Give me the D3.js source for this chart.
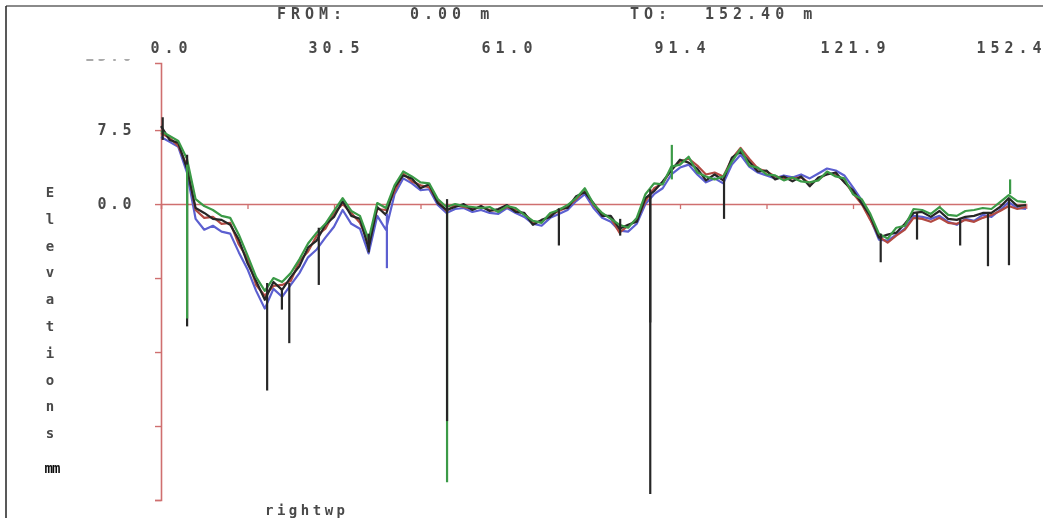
<!DOCTYPE html>
<html>
<head>
<meta charset="utf-8">
<script src="https://cdn.jsdelivr.net/npm/d3@7"></script>
<style>
  html, body { margin: 0; padding: 0; background: #fff; }
  svg { display: block; }
  .mono { font-family: "DejaVu Sans Mono", "Liberation Mono", monospace; font-weight: bold; }
</style>
</head>
<body>
<svg id="chart" width="1043" height="518"></svg>
<script>
// Profile station spacing (m) and range
const startDist = 0.0;
const endDist = 152.4;
const step = 1.524;

// Elevation traces (mm), one value per station
const traceBlack = [7.9, 6.5, 6.2, 3.6, -0.4, -0.9, -1.5, -1.6, -2.1, -3.6, -6.0, -7.8, -9.7, -7.9, -8.7, -7.4, -6.3, -4.4, -3.7, -2.1,
  -1.3, 0.3, -1.2, -1.5, -4.5, -0.3, -1.1, 1.7, 2.9, 2.6, 1.6, 2.0, 0.1, -0.6, -0.3, 0.0, -0.6, -0.2, -0.7, -0.5,
  -0.1, -0.8, -0.9, -2.1, -1.6, -1.3, -0.5, -0.4, 0.8, 1.2, 0.1, -1.2, -1.2, -2.5, -2.1, -1.8, 0.6, 1.3, 2.3, 3.4,
  4.5, 4.2, 3.6, 2.4, 3.0, 2.4, 4.7, 5.3, 4.3, 3.3, 3.4, 2.5, 2.8, 2.3, 2.8, 1.8, 2.7, 3.0, 3.2, 2.2,
  1.4, 0.1, -1.2, -3.4, -3.1, -2.9, -2.0, -0.9, -0.8, -1.3, -0.7, -1.5, -1.6, -1.3, -1.2, -0.9, -0.9, -0.3, 0.6, -0.2, -0.1];
const traceGreen = [7.4, 6.9, 6.4, 4.6, 0.5, -0.2, -0.6, -1.2, -1.4, -3.1, -5.2, -7.4, -8.8, -7.5, -7.9, -7.0, -5.6, -4.0, -2.9, -2.0,
  -0.7, 0.6, -0.7, -1.2, -3.6, 0.1, -0.4, 1.9, 3.3, 2.8, 2.2, 2.1, 0.5, -0.3, 0.0, -0.2, -0.3, -0.4, -0.3, -0.8,
  -0.2, -0.4, -1.1, -1.7, -1.9, -0.9, -0.6, -0.1, 0.6, 1.6, 0.0, -0.9, -1.5, -2.1, -2.4, -1.4, 1.0, 2.1, 2.0, 3.8,
  4.0, 4.8, 3.2, 2.8, 2.5, 2.8, 4.3, 5.6, 3.9, 3.7, 3.0, 2.9, 2.4, 2.7, 2.3, 2.2, 2.4, 3.3, 2.8, 2.6,
  1.0, 0.5, -1.0, -3.0, -3.5, -2.4, -2.2, -0.5, -0.6, -1.0, -0.3, -1.1, -1.2, -0.7, -0.6, -0.4, -0.5, 0.2, 0.9, 0.3, 0.2];
const traceBlue = [6.8, 6.3, 5.8, 3.2, -1.5, -2.6, -2.2, -2.8, -3.0, -4.9, -6.6, -8.8, -10.6, -8.6, -9.4, -8.2, -7.0, -5.4, -4.6, -3.4,
  -2.3, -0.6, -2.0, -2.5, -5.0, -1.2, -2.6, 1.0, 2.6, 2.1, 1.4, 1.5, -0.1, -0.9, -0.5, -0.4, -0.8, -0.6, -0.9, -1.0,
  -0.4, -0.9, -1.3, -2.0, -2.2, -1.4, -1.0, -0.6, 0.3, 1.0, -0.4, -1.4, -1.8, -2.7, -2.8, -2.0, 0.0, 1.0, 1.6, 3.0,
  3.7, 4.0, 3.0, 2.2, 2.6, 2.1, 4.0, 5.0, 3.8, 3.2, 2.9, 2.6, 2.9, 2.7, 3.0, 2.6, 3.1, 3.6, 3.4, 2.9,
  1.7, 0.4, -1.5, -3.6, -3.7, -3.1, -2.5, -1.2, -1.3, -1.5, -1.2, -1.8, -2.1, -1.5, -1.7, -1.1, -1.3, -0.6, 0.2, -0.4, -0.5];
const traceRed = [7.2, 6.7, 5.9, 3.9, -0.6, -1.4, -1.3, -2.0, -1.9, -4.1, -5.5, -8.2, -9.3, -8.3, -8.2, -7.8, -5.8, -4.8, -3.2, -2.5,
  -0.9, 0.0, -0.9, -1.9, -3.9, -0.5, -0.6, 1.3, 3.1, 2.3, 1.9, 1.7, 0.3, -0.7, -0.1, -0.3, -0.5, -0.3, -0.6, -0.7,
  -0.3, -0.6, -1.0, -1.8, -1.8, -1.1, -0.7, -0.3, 0.5, 1.4, -0.1, -1.0, -1.4, -2.9, -2.2, -1.6, 0.3, 1.6, 2.1, 3.5,
  4.3, 4.6, 3.9, 3.0, 3.2, 2.8, 4.6, 5.7, 4.6, 3.6, 3.3, 2.8, 2.6, 2.6, 2.7, 2.1, 2.5, 3.1, 3.0, 2.3,
  1.1, 0.0, -1.6, -3.3, -3.9, -3.2, -2.6, -1.4, -1.5, -1.8, -1.4, -1.9, -2.0, -1.6, -1.8, -1.4, -1.1, -0.7, -0.2, -0.5, -0.3];

// Narrow dropouts / jumps in the traces: station (m), start and end elevation (mm), trace
const spikeDist   = [0.3, 4.6, 4.6, 18.7, 21.3, 22.6, 27.8, 36.6, 39.8, 50.4, 50.4, 70.1, 80.9, 86.2, 86.2, 90.0, 99.2, 126.8, 133.2, 140.8, 145.7, 149.4, 149.6];
const spikeTop    = [6.5, 5.0, 4.0, -8.0, -8.5, -8.0, -2.4, -3.0, -1.0, 0.0, 0.5, -0.5, -1.5, 1.5, 1.0, 2.5, 2.5, -3.0, -0.8, -1.5, -0.8, 0.5, 1.0];
const spikeBottom = [8.8, -12.4, -11.6, -18.9, -10.7, -14.1, -8.2, -4.9, -6.5, -28.2, -22.0, -4.2, -3.2, -29.4, -12.0, 6.0, -1.5, -5.9, -3.6, -4.2, -6.3, -6.2, 2.5];
const spikeTrace  = ["k", "k", "g", "k", "k", "k", "k", "k", "b", "g", "k", "k", "k", "k", "k", "g", "k", "k", "k", "k", "k", "k", "g"];

// Axis ticks and labels
const distTicks = [0, 15.24, 30.48, 45.72, 60.96, 76.2, 91.44, 106.68, 121.92, 137.16, 152.4];
const distLabels = ["0.0", "", "30.5", "", "61.0", "", "91.4", "", "121.9", "", "152.4"];
const elevTicks = [-30, -22.5, -15, -7.5, 0, 7.5, 15];
const elevLabels = ["", "", "", "", "0.0", "7.5", "15.0"];

const header = { fromLabel: "FROM:", fromValue: "0.00 m", toLabel: "TO:", toValue: "152.40 m" };
const yTitle = "Elevations";
const yUnit = "mm";
const profileName = "rightwp";

const colors = { k: "#262626", g: "#3a9a46", b: "#5b5fd0", r: "#b24a42" };
const axisRed = "#cf6f6f";
const textFill = "#4a4a4a";

const svg = d3.select("#chart");

// Page frame
svg.append("line").attr("x1", 6).attr("x2", 1043).attr("y1", 6).attr("y2", 6)
  .attr("stroke", "#8a8a8a").attr("stroke-width", 2);
svg.append("line").attr("x1", 6).attr("x2", 6).attr("y1", 6).attr("y2", 518)
  .attr("stroke", "#222").attr("stroke-width", 1.5);

const defs = svg.append("defs");
defs.append("filter").attr("id", "soft").append("feGaussianBlur").attr("stdDeviation", 0.45);
defs.append("clipPath").attr("id", "topcut").append("rect")
  .attr("x", -400).attr("y", 59).attr("width", 2000).attr("height", 500);

const x = d3.scaleLinear().domain([startDist, endDist]).range([161, 1026]);
const y = d3.scaleLinear().domain([-30, 14.3]).range([500, 63]);

const stations = d3.range(traceBlack.length).map(i => startDist + i * step);

// Header
const hdr = svg.append("g").attr("class", "mono").attr("font-size", 15).attr("fill", textFill)
  .attr("letter-spacing", 5).attr("filter", "url(#soft)");
hdr.append("text").attr("x", 277).attr("y", 19).text(header.fromLabel);
hdr.append("text").attr("x", 410).attr("y", 19).text(header.fromValue);
hdr.append("text").attr("x", 630).attr("y", 19).text(header.toLabel);
hdr.append("text").attr("x", 705).attr("y", 19).text(header.toValue);

// Distance labels along the top; the end labels are nudged inward
const topAxis = d3.axisTop(x).tickValues(distTicks).tickSize(0).tickPadding(0)
  .tickFormat((d, i) => distLabels[i]);
const gTop = svg.append("g").attr("transform", "translate(0,53)").call(topAxis);
gTop.select(".domain").remove();
const lastTick = distTicks.length - 1;
gTop.selectAll("text").attr("class", "mono").attr("font-size", 15).attr("fill", textFill)
  .attr("letter-spacing", 5)
  .attr("dx", (d, i) => i === 0 ? 10 : (i === lastTick ? -15 : 2))
  .attr("filter", "url(#soft)");

// Elevation axis
const leftAxis = d3.axisLeft(y).tickValues(elevTicks).tickSize(6).tickPadding(20)
  .tickFormat((d, i) => elevLabels[i]);
const gLeft = svg.append("g").attr("transform", "translate(161,0)").call(leftAxis);
gLeft.select(".domain").attr("stroke", axisRed).attr("stroke-width", 1.6);
gLeft.selectAll(".tick line").attr("stroke", axisRed).attr("stroke-width", 1.4);
gLeft.selectAll(".tick").filter(d => d > 14.3).select("line").remove();
gLeft.selectAll("text").attr("class", "mono").attr("font-size", 15).attr("fill", textFill)
  .attr("letter-spacing", 3.5).attr("filter", "url(#soft)");
gLeft.selectAll(".tick").filter(d => d > 14.3).select("text").attr("fill", "#aaa");
gLeft.attr("clip-path", "url(#topcut)");

// Zero reference line with station ticks
const zeroAxis = d3.axisBottom(x).tickValues(distTicks.slice(1)).tickSize(5).tickFormat("");
const gZero = svg.append("g").attr("transform", `translate(0,${y(0)})`).call(zeroAxis);
gZero.select(".domain").attr("stroke", axisRed).attr("stroke-width", 1.6);
gZero.selectAll(".tick line").attr("stroke", axisRed).attr("stroke-width", 1.3);

// Vertical axis title, one letter per row
const gTitle = svg.append("g").attr("class", "mono").attr("font-size", 14).attr("fill", textFill)
  .attr("text-anchor", "middle").attr("filter", "url(#soft)");
yTitle.split("").forEach((ch, i) => {
  gTitle.append("text").attr("x", 50).attr("y", 197 + i * 26.8).text(ch);
});
gTitle.append("text").attr("x", 52).attr("y", 473)
  .attr("fill", "#111").attr("font-size", 14).attr("letter-spacing", -1).text(yUnit);

// Profile name
svg.append("text").attr("class", "mono").attr("x", 265).attr("y", 515).attr("font-size", 14)
  .attr("letter-spacing", 3.5).attr("fill", textFill).attr("filter", "url(#soft)").text(profileName);

// Traces
const line = d3.line().x((d, i) => x(stations[i])).y(d => y(d));
const traces = [
  { key: "b", values: traceBlue },
  { key: "r", values: traceRed },
  { key: "k", values: traceBlack },
  { key: "g", values: traceGreen }
];
const gTraces = svg.append("g").attr("filter", "url(#soft)");
traces.forEach(t => {
  gTraces.append("path").datum(t.values).attr("d", line)
    .attr("fill", "none").attr("stroke", colors[t.key]).attr("stroke-width", 2.2)
    .attr("stroke-linejoin", "round");
});

// Dropouts
spikeDist.forEach((d, i) => {
  gTraces.append("line").attr("x1", x(d)).attr("x2", x(d))
    .attr("y1", y(spikeTop[i])).attr("y2", y(spikeBottom[i]))
    .attr("stroke", colors[spikeTrace[i]]).attr("stroke-width", 2.2);
});
</script>
</body>
</html>
